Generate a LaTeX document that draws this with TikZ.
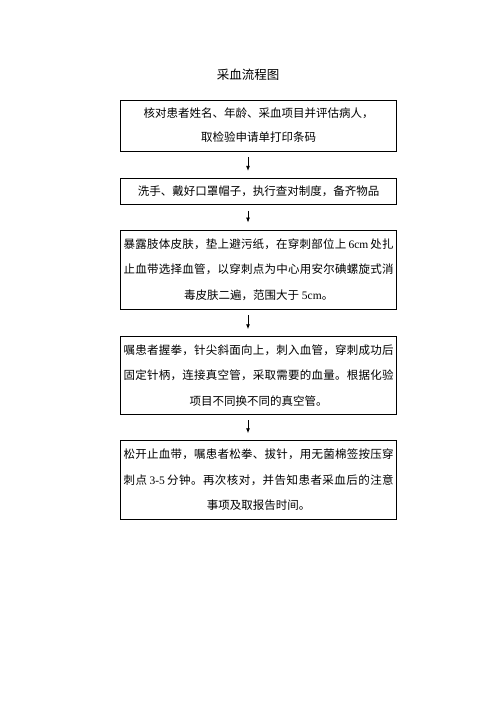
\documentclass[tikz,border=0pt]{standalone}
\usepackage{fontspec}
\setmainfont{Noto Sans CJK SC}
\newfontfamily\lat{Liberation Serif}
\usetikzlibrary{arrows.meta}
\makeatletter
\newcommand\spreadline[2]{\hbox to #1{\spr@a#2\relax}}
\def\spr@a#1{{#1}\spr@b}
\def\spr@b#1{\ifx\relax#1\else\hskip 0pt plus 1fil minus .6pt{#1}\expandafter\spr@b\fi}
\makeatother
\tikzset{
  stepbox/.style={draw=black, line width=0.9pt, minimum width=276pt, inner sep=0pt, align=center,
    font={\fontsize{11.5}{25.5}\selectfont}},
  flowarrow/.style={line width=0.8pt, -{Latex[length=5pt,width=4pt]}, shorten <=6pt, shorten >=7pt},
}
\begin{document}
\begin{tikzpicture}[x=1pt,y=-1pt]
\useasboundingbox (0,0) rectangle (496,702);
\node (title) at (248,75) {\fontsize{12.5}{15}\selectfont 采血流程图};
\node[stepbox, minimum height=51pt, font={\fontsize{11.5}{24}\selectfont}] (b1) at (258.7,125.5)
  {核对患者姓名、年龄、采血项目并评估病人，\\取检验申请单打印条码};
\node[stepbox, minimum height=26pt] (b2) at (258.7,191.3)
  {洗手、戴好口罩帽子，执行查对制度，备齐物品};
\node[stepbox, minimum height=79pt] (b3) at (258.7,269.5)
  {\spreadline{270pt}{暴露肢体皮肤，垫上避污纸，在穿刺部位上{\lat\,6cm\,}处扎}\\
   \spreadline{270pt}{止血带选择血管，以穿刺点为中心用安尔碘螺旋式消}\\
   毒皮肤二遍，范围大于{\lat\ 5cm}。};
\node[stepbox, minimum height=77.3pt] (b4) at (258.7,375.35)
  {\spreadline{270pt}{嘱患者握拳，针尖斜面向上，刺入血管，穿刺成功后}\\
   \spreadline{270pt}{固定针柄，连接真空管，采取需要的血量。根据化验}\\
   项目不同换不同的真空管。};
\node[stepbox, minimum height=78.6pt] (b5) at (258.7,480)
  {\spreadline{270pt}{松开止血带，嘱患者松拳、拔针，用无菌棉签按压穿}\\
   \spreadline{270pt}{刺点{\lat\,3-5\,}分钟。再次核对，并告知患者采血后的注意}\\
   事项及取报告时间。};
\draw[flowarrow] (b1.south -| title.center) -- (b2.north -| title.center);
\draw[flowarrow] (b2.south -| title.center) -- (b3.north -| title.center);
\draw[flowarrow] (b3.south -| title.center) -- (b4.north -| title.center);
\draw[flowarrow] (b4.south -| title.center) -- (b5.north -| title.center);
\end{tikzpicture}
\end{document}
